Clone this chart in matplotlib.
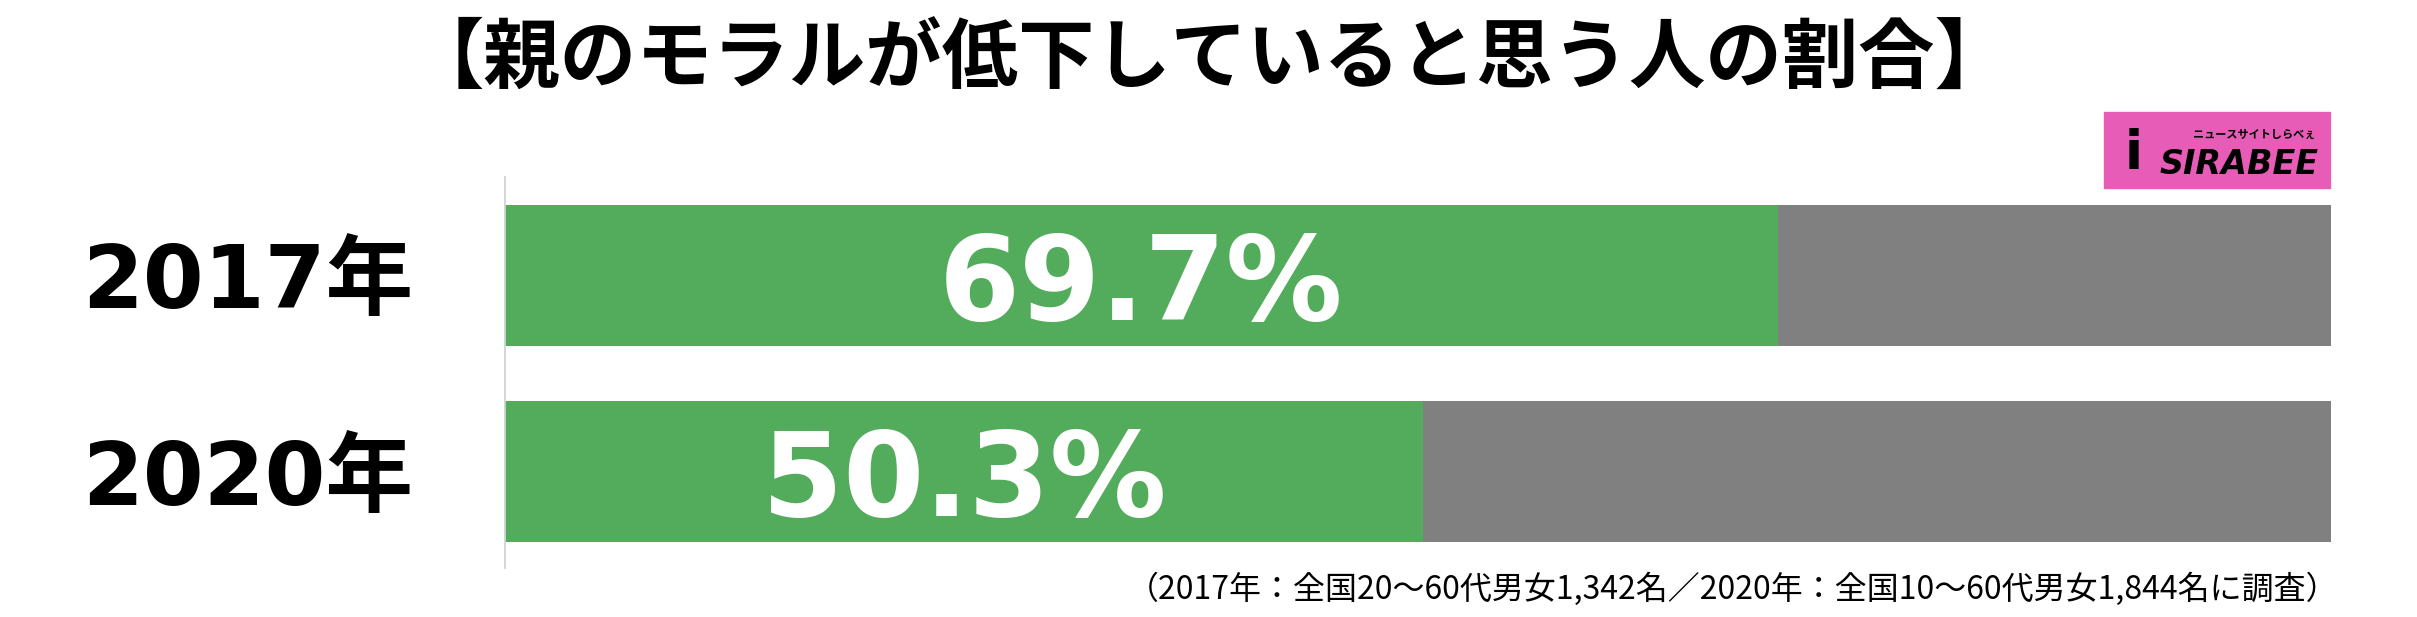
import matplotlib.pyplot as plt
from matplotlib.patches import Rectangle

years = ["2017年", "2020年"]
values = [69.7, 50.3]
title = "【親のモラルが低下していると思う人の割合】"
note = "（2017年：全国20〜60代男女1,342名／2020年：全国10〜60代男女1,844名に調査）"

green = "#52ac5c"
grey = "#808080"
jp = ["Noto Sans CJK JP"]
mixed = ["DejaVu Sans", "Noto Sans CJK JP"]

W, H = 2417, 617
fig = plt.figure(figsize=(W / 100, H / 100), dpi=100)

# axes area in pixels: x 505..2331, y 177..568
ax = fig.add_axes([505 / W, 1 - 568 / H, (2331 - 505) / W, (568 - 177) / H])
pos = list(range(len(years)))
ax.barh(pos, [100] * len(values), height=0.7175, color=grey, zorder=1)
ax.barh(pos, values, height=0.7175, color=green, zorder=2)
ax.set_xlim(0, 100)
ax.set_ylim(1.489, -0.501)

for i, v in enumerate(values):
    ax.text(v / 2, i + 0.06, f"{v}%", ha="center", va="center", color="white",
            fontsize=84, fontweight="bold", family=mixed, zorder=3)

ax.set_yticks(pos)
ax.set_yticklabels(years, family=mixed, fontsize=63, fontweight="bold")
ax.tick_params(axis="y", length=0, pad=66)
for lab in ax.get_yticklabels():
    lab.set_y(lab.get_position()[1])
ax.set_xticks([])
for s in ["top", "right", "bottom"]:
    ax.spines[s].set_visible(False)
ax.spines["left"].set_color("#d2d2d2")
ax.spines["left"].set_linewidth(1.3)

fig.text(1210 / W, 1 - 60 / H, title, ha="center", va="center",
         fontsize=55, fontweight="bold", family=jp)

fig.text(2338 / W, 1 - 589 / H, note, ha="right", va="center",
         fontsize=23, family=jp)

# logo
lx, ly, lw, lh = 2104, 112, 226, 76
fig.patches.append(Rectangle((lx / W, 1 - (ly + lh) / H), lw / W, lh / H,
                             transform=fig.transFigure, color="#e65cb6", zorder=5))
fig.text((lx + 135) / W, 1 - (ly + 52) / H, "SIRABEE", ha="center", va="center",
         fontsize=24, fontweight="bold", style="italic", family=["DejaVu Sans"], zorder=6)
fig.text((lx + 150) / W, 1 - (ly + 22) / H, "ニュースサイトしらべぇ", ha="center",
         va="center", fontsize=8, fontweight="bold", family=jp, zorder=6)
fig.text((lx + 30) / W, 1 - (ly + 42) / H, "i", ha="center", va="center",
         fontsize=38, fontweight="bold", family=["DejaVu Sans"], zorder=6)

fig.savefig("out.png", dpi=100)
